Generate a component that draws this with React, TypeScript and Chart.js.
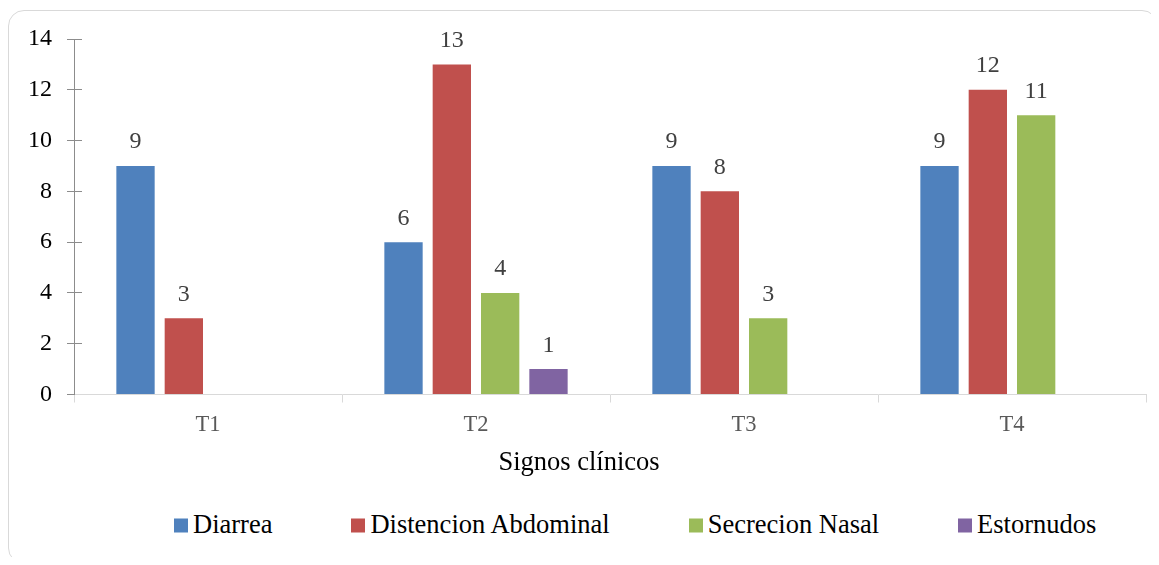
import React, { useEffect, useRef } from "react";
import { Chart, registerables } from "chart.js";

Chart.register(...registerables);

// Categories and series values
const categories = ["T1", "T2", "T3", "T4"];
const seriesNames = ["Diarrea", "Distencion Abdominal", "Secrecion Nasal", "Estornudos"];
const diarrea = [9, 6, 9, 9];
const distencionAbdominal = [3, 13, 8, 12];
const secrecionNasal = [null, 4, 3, 11];
const estornudos = [null, 1, null, null];
const yTickValues = [0, 2, 4, 6, 8, 10, 12, 14];
const xAxisTitle = "Signos clínicos";

const palette = ["#4F81BD", "#C0504D", "#9BBB59", "#8064A2"];
const SERIF = "'Liberation Serif', 'DejaVu Serif', serif";

// Numbers written above each bar
const valueLabels = {
  id: "valueLabels",
  afterDatasetsDraw(chart: any) {
    const ctx = chart.ctx;
    ctx.save();
    ctx.font = `24px ${SERIF}`;
    ctx.fillStyle = "#404040";
    ctx.textAlign = "center";
    ctx.textBaseline = "alphabetic";
    chart.data.datasets.forEach((ds: any, i: number) => {
      const meta = chart.getDatasetMeta(i);
      meta.data.forEach((bar: any, j: number) => {
        const v = ds.data[j];
        if (v === null || v === undefined) return;
        ctx.fillText(String(v), bar.x, bar.y - 17.5);
      });
    });
    ctx.restore();
  },
};

// Inner half of the cross-style tick marks on the value axis
const crossTicks = {
  id: "crossTicks",
  afterDraw(chart: any) {
    const ctx = chart.ctx;
    const yScale = chart.scales.y;
    const x0 = chart.chartArea.left;
    ctx.save();
    ctx.strokeStyle = "#8C8C8C";
    ctx.lineWidth = 1;
    yScale.ticks.forEach((t: any) => {
      if (t.value === 0) return;
      const py = Math.round(yScale.getPixelForValue(t.value) - 0.5) + 0.5;
      ctx.beginPath();
      ctx.moveTo(x0, py);
      ctx.lineTo(x0 + 8, py);
      ctx.stroke();
    });
    ctx.restore();
  },
};

const seriesData = [diarrea, distencionAbdominal, secrecionNasal, estornudos];

export default function App() {
  const canvasRef = useRef<HTMLCanvasElement>(null);

  useEffect(() => {
    if (!canvasRef.current) return;
    const chart = new Chart(canvasRef.current, {
      type: "bar",
      data: {
        labels: categories,
        datasets: seriesNames.map((name, i) => ({
          label: name,
          data: seriesData[i],
          backgroundColor: palette[i],
          borderWidth: 0,
          categoryPercentage: 0.7213,
          barPercentage: 0.793,
        })),
      },
      options: {
        responsive: false,
        animation: false,
        devicePixelRatio: 1,
        layout: { padding: { left: 0, right: 13, top: 39, bottom: 0 } },
        plugins: {
          legend: { display: false },
          tooltip: { enabled: false },
        },
        scales: {
          x: {
            grid: {
              offset: true,
              drawOnChartArea: false,
              tickLength: 8,
              color: "#D9D9D9",
            },
            border: { color: "#D9D9D9" },
            ticks: {
              color: "#595959",
              font: { family: SERIF, size: 22.5 },
              padding: 9,
            },
            afterFit(scale: any) {
              scale.height = 105.5;
            },
          },
          y: {
            min: 0,
            max: 14,
            afterBuildTicks(scale: any) {
              scale.ticks = yTickValues.map((v) => ({ value: v }));
            },
            ticks: {
              color: "#000000",
              font: { family: SERIF, size: 24 },
              padding: 15,
            },
            grid: {
              drawOnChartArea: false,
              tickLength: 7,
              color: "#8C8C8C",
            },
            border: { color: "#8C8C8C" },
            afterFit(scale: any) {
              scale.width = 74;
            },
          },
        },
      },
      plugins: [valueLabels, crossTicks],
    } as any);
    return () => chart.destroy();
  }, []);

  return (
    <div style={{ position: "relative", width: 1143, height: 549 }}>
      <div
        style={{
          position: "absolute",
          left: 0,
          top: 2,
          width: 1150,
          height: 554,
          boxSizing: "border-box",
          border: "1.5px solid #D9D9D9",
          borderRadius: 16,
        }}
      />
      <canvas
        ref={canvasRef}
        width={1159}
        height={500}
        style={{ position: "absolute", left: -8, top: -8, width: 1159, height: 500 }}
      />
      <div
        style={{
          position: "absolute",
          left: 421,
          top: 437.5,
          width: 300,
          textAlign: "center",
          fontFamily: SERIF,
          fontSize: 26.5,
          lineHeight: "30px",
          color: "#000000",
          whiteSpace: "nowrap",
        }}
      >
        {xAxisTitle}
      </div>
      <div
        style={{
          position: "absolute",
          left: 166,
          top: 500.5,
          display: "flex",
          alignItems: "center",
          gap: 79,
          fontFamily: SERIF,
          fontSize: 26.5,
          lineHeight: "30px",
          color: "#000000",
          whiteSpace: "nowrap",
        }}
      >
        {seriesNames.map((name, i) => (
          <div key={name} style={{ display: "flex", alignItems: "center" }}>
            <span
              style={{
                display: "inline-block",
                width: 14,
                height: 14,
                marginRight: 5,
                background: palette[i],
                transform: "translateY(1.5px)",
              }}
            />
            <span>{name}</span>
          </div>
        ))}
      </div>
    </div>
  );
}
